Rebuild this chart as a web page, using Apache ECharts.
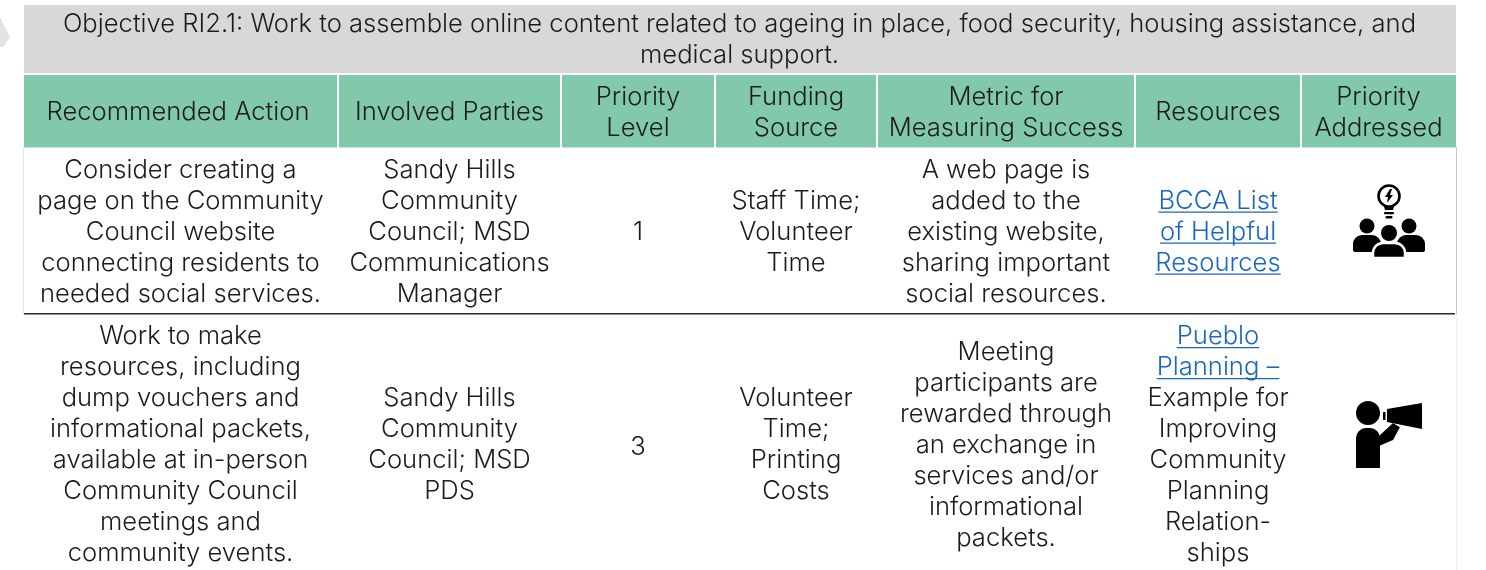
<!DOCTYPE html>
<html><head><meta charset="utf-8">
<style>html,body{margin:0;padding:0;background:#fff}#c{width:1486px;height:570px}</style>
<script src="https://cdn.jsdelivr.net/npm/echarts@6/dist/echarts.min.js"></script>
</head><body><div id="c"></div>
<script>
// ---- content ----
const objectiveLines = ["Objective RI2.1: Work to assemble online content related to ageing in place, food security, housing assistance, and", "medical support."];
const headers = [
  ["Recommended Action"], ["Involved Parties"], ["Priority", "Level"], ["Funding", "Source"],
  ["Metric for", "Measuring Success"], ["Resources"], ["Priority", "Addressed"]
];
const recommendedAction = [
  ["Consider creating a", "page on the Community", "Council website", "connecting residents to", "needed social services."],
  ["Work to make", "resources, including", "dump vouchers and", "informational packets,", "available at in-person", "Community Council", "meetings and", "community events."]
];
const involvedParties = [
  ["Sandy Hills", "Community", "Council; MSD", "Communications", "Manager"],
  ["Sandy Hills", "Community", "Council; MSD", "PDS"]
];
const priorityLevel = [["1"], ["3"]];
const fundingSource = [
  ["Staff Time;", "Volunteer", "Time"],
  ["Volunteer", "Time;", "Printing", "Costs"]
];
const metricForSuccess = [
  ["A web page is", "added to the", "existing website,", "sharing important", "social resources."],
  ["Meeting", "participants are", "rewarded through", "an exchange in", "services and/or", "informational", "packets."]
];
const resources = [
  ["BCCA List", "of Helpful", "Resources"],
  ["Pueblo", "Planning –", "Example for", "Improving", "Community", "Planning", "Relation-", "ships"]
];
const linkLineCount = [3, 2];

// ---- layout & style ----
const FONT = 'Inter, Lato, sans-serif';
const SIZE = 25.6, WEIGHT = 300, LEADING = 31, INK = '#1c1c1c', LINK = '#1a66c4';
const colEdges = [24, 338, 561, 715, 877, 1135, 1301, 1456];
const rowCentres = [232, 445];
const bodyCols = [recommendedAction, involvedParties, priorityLevel, fundingSource, metricForSuccess, resources];

const measure = document.createElement('canvas').getContext('2d');
function widthOf(s){ measure.font = WEIGHT+' '+SIZE+'px '+FONT; return measure.measureText(s).width; }

const cells = [];
cells.push({kind:'rect', x0:24, x1:1456, y0:5, y1:73, fill:'#d8d8d8'});
objectiveLines.forEach((t,i)=>cells.push({kind:'text', t, x:739.5, y:24.5+31*i}));
headers.forEach((h,i)=>{
  cells.push({kind:'rect', x0:colEdges[i]+(i?1:0), x1:colEdges[i+1]-1+(i==6?1:0), y0:75, y1:147.5, fill:'#82c8aa'});
  const cx=(colEdges[i]+colEdges[i+1])/2 - (i===0?3:0);
  h.forEach((t,j)=>cells.push({kind:'text', t, x:cx, y:112.5+(j-(h.length-1)/2)*LEADING}));
});
bodyCols.forEach((col,c)=>{
  const cx=(colEdges[c]+colEdges[c+1])/2 - (c==0?0.5:0);
  col.forEach((lines,r)=>lines.forEach((t,j)=>{
    const y=rowCentres[r]+(j-(lines.length-1)/2)*LEADING + (c===2&&r===1?2:0);
    const isLink = c===5 && j<linkLineCount[r];
    cells.push({kind:'text', t, x:cx, y, link:isLink});
  }));
});
cells.push({kind:'rect', x0:1456, x1:1457, y0:147, y1:314, fill:'#c8c8c8'});
cells.push({kind:'rect', x0:1456.5, x1:1457.5, y0:314, y1:570, fill:'#ececec'});
cells.push({kind:'rect', x0:23, x1:24, y0:147, y1:314, fill:'#e4e4e4'});
cells.push({kind:'rect', x0:24, x1:1455, y0:313, y1:314.6, fill:'#2a2a2a'});
cells.push({kind:'bulbTeam', x:1389, y:228});
cells.push({kind:'megaphone', x:1389, y:435});
cells.push({kind:'chev'});

function renderItem(params, api){
  const d = cells[params.dataIndex];
  const P = (x,y)=>api.coord([x,y]);
  if(d.kind==='rect'){
    const a=P(d.x0,d.y0), b=P(d.x1,d.y1);
    return {type:'rect', shape:{x:a[0],y:a[1],width:b[0]-a[0],height:b[1]-a[1]}, style:{fill:d.fill}};
  }
  if(d.kind==='text'){
    const p=P(d.x,d.y), fill=d.link?LINK:INK;
    const kids=[{type:'text', style:{text:d.t,x:p[0],y:p[1],align:'center',verticalAlign:'middle',fill,font:WEIGHT+' '+SIZE+'px '+FONT}}];
    if(d.link){const w=widthOf(d.t); kids.push({type:'rect',shape:{x:p[0]-w/2,y:p[1]+10.5,width:w,height:1.2},style:{fill:LINK}});}
    return {type:'group',children:kids};
  }
  if(d.kind==='chev'){
    return {type:'polygon',shape:{points:[P(0,17),P(10,37),P(3,47),P(0,47)]},style:{fill:'#e3e3e3'}};
  }
  const o=P(d.x,d.y), K='#000';
  const circ=(x,y,r,extra)=>({type:'circle',shape:{cx:o[0]+x,cy:o[1]+y,r},style:Object.assign({fill:K},extra||{})});
  const poly=(pts,fill)=>({type:'polygon',shape:{points:pts.map(q=>[o[0]+q[0],o[1]+q[1]])},style:{fill:fill||K}});
  const rr=(x,y,w,h,r)=>({type:'rect',shape:{x:o[0]+x,y:o[1]+y,width:w,height:h,r},style:{fill:K}});
  if(d.kind==='bulbTeam'){
    return {type:'group',children:[
      poly([[-6,-25],[6,-25],[4,-18],[-4,-18]]),
      circ(0,-32,10.5,{fill:'#fff',stroke:K,lineWidth:2.6}),
      poly([[1,-39],[-4,-31],[-1,-31],[-2,-25],[4,-33],[1,-33],[3,-39]]),
      rr(-5,-16,10,2.2,1), rr(-3.5,-12,7,2.4,1),
      circ(-22,-2,7.5),circ(20,-2,7.5),circ(0,5,8),
      {type:'rect',shape:{x:o[0]-36,y:o[1]+7,width:28,height:17,r:[9,9,2,2]},style:{fill:K}},
      {type:'rect',shape:{x:o[0]+8,y:o[1]+7,width:28,height:17,r:[9,9,2,2]},style:{fill:K}},
      {type:'rect',shape:{x:o[0]-16,y:o[1]+15,width:32,height:15,r:[10,10,1,1]},style:{fill:K,stroke:'#fff',lineWidth:2.5}},
    ]};
  }
  return {type:'group',children:[
    circ(-21,-22,12),
    {type:'rect',shape:{x:o[0]-33,y:o[1]-7,width:24,height:40,r:[10,10,0,0]},style:{fill:K}},
    poly([[-10,1],[4,-12],[11,-8],[4,5],[-10,11]]),
    poly([[4,-12],[11,-8],[12,-9],[5,-13]],'#fff'),
    poly([[-2,-26],[33,-32],[33,-6],[-2,-13]]),
    rr(-6,-23,2.5,8,0.5)
  ]};
}

const chart = echarts.init(document.getElementById('c'), null, {renderer:'canvas'});
chart.setOption({
  animation:false,
  backgroundColor:'#fff',
  grid:{left:0,right:0,top:0,bottom:0},
  xAxis:{type:'value',min:0,max:1486,show:false},
  yAxis:{type:'value',min:0,max:570,inverse:true,show:false},
  series:[{type:'custom',coordinateSystem:'cartesian2d',clip:false,renderItem,silent:true,
    data:cells.map((c,i)=>[i,i])}]
});
</script></body></html>
